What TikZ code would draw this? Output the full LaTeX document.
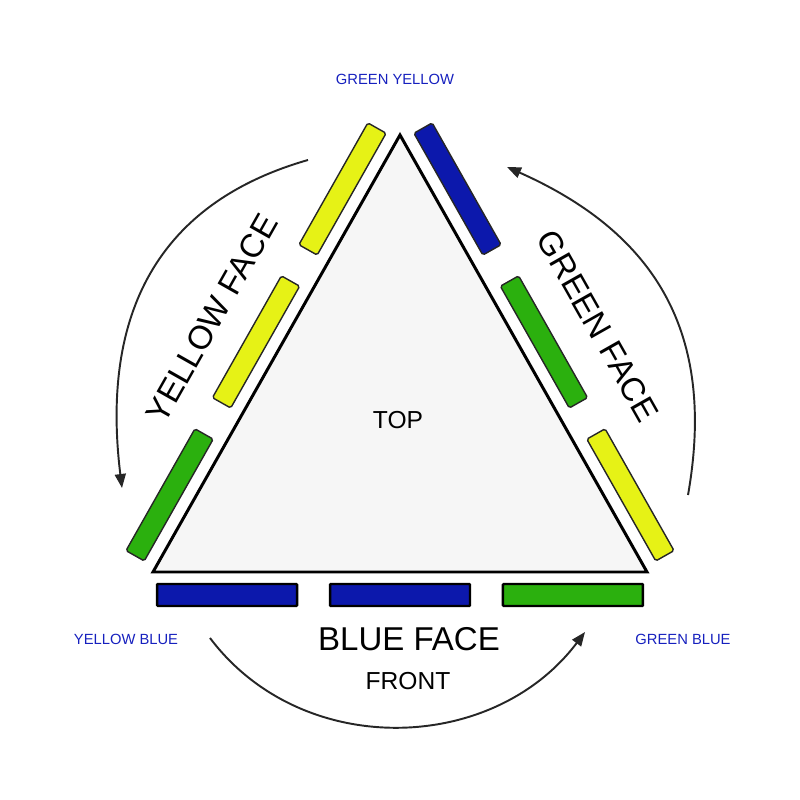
\documentclass[tikz,border=0pt]{standalone}
\usepackage{fontspec}
\setmainfont{Liberation Sans}
\usepackage{tikz}
\usetikzlibrary{arrows.meta,calc}
\definecolor{faceyellow}{RGB}{230,242,22}
\definecolor{faceblue}{RGB}{12,24,172}
\definecolor{facegreen}{RGB}{43,176,14}
\definecolor{labelblue}{RGB}{22,32,190}
\definecolor{topgray}{RGB}{246,246,246}
\tikzset{
    mysticker/.style={rectangle,draw=black!85,line width=0.8pt,rounded corners=1pt,minimum width=2.8cm,minimum height=0.42cm,inner sep=0pt},
    myfront/.style={mysticker,draw=black,line width=1.4pt,rounded corners=0.5pt,minimum height=0.44cm},
    myturn/.style={-{Triangle[length=2.8mm,width=2.2mm]},line width=1.1pt,draw=black!85},
    myface/.style={font=\fontsize{18.8}{22}\selectfont},
    mycorner/.style={text=labelblue,font=\fontsize{8.4}{10}\selectfont}
}
\begin{document}
\begin{tikzpicture}[x=0.02cm,y=0.02cm]
  \useasboundingbox (0,0) rectangle (800,800);
  \coordinate (L) at (153,228);
  \coordinate (T) at (400,665);
  \coordinate (R) at (647,228);
  \draw[line width=1.7pt,fill=topgray,line join=miter] (L)--(T)--(R)--cycle;
  % stickers on the two side faces
  \foreach \a/\b/\t/\ang/\col/\nm in {L/T/0.15/60.5/facegreen/ys1, L/T/0.5/60.5/faceyellow/ys2, L/T/0.85/60.5/faceyellow/ys3,
      T/R/0.15/-60.5/faceblue/gs1, T/R/0.5/-60.5/facegreen/gs2, T/R/0.85/-60.5/faceyellow/gs3}{
    \node[mysticker,fill=\col,rotate=\ang] (\nm) at ($(\a)!\t!(\b)!0.47cm!90:(\b)$) {};
  }
  % front stickers
  \foreach \t/\col/\nm in {0.15/facegreen/bs1, 0.5/faceblue/bs2, 0.85/faceblue/bs3}{
    \node[myfront,fill=\col] (\nm) at ($(R)!\t!(L)!0.46cm!90:(L)$) {};
  }
  \node (top) at (398,380) {\fontsize{14}{16}\selectfont TOP};
  \node[myface,rotate=60.5] (yface) at (212,482) {YELLOW FACE};
  \node[myface,rotate=-60.5] (gface) at (598,474) {GREEN FACE};
  \node[myface] (bface) at (409,161) {BLUE FACE};
  \node (front) at (408,119) {\fontsize{14}{16}\selectfont FRONT};
  \node[mycorner] (gy) at (395,721) {GREEN YELLOW};
  \node[mycorner] (yb) at (126,161) {YELLOW BLUE};
  \node[mycorner] (gb) at (683,161) {GREEN BLUE};
  % turning arrows
  \coordinate (y0) at (308,640);
  \coordinate (y1) at (122,312);
  \coordinate (g0) at (688,305);
  \coordinate (g1) at (507,633);
  \coordinate (b0) at (210,162);
  \coordinate (b1) at (585,168);
  \draw[myturn] (y0) to[out=196,in=97,looseness=1.12] (y1);
  \draw[myturn] (g0) to[out=80,in=-24,looseness=1.12] (g1);
  \draw[myturn] (b0) to[out=-53,in=-127,looseness=1.04] (b1);
\end{tikzpicture}
\end{document}
